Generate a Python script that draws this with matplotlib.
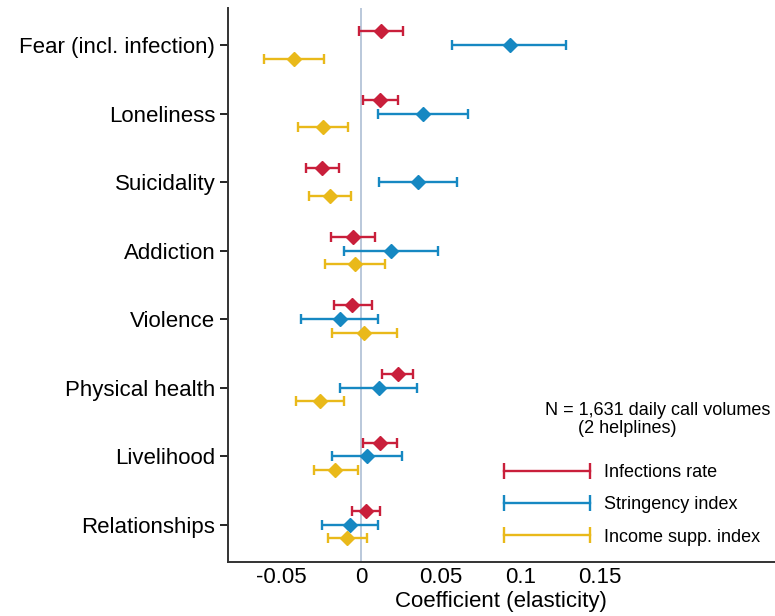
import matplotlib
matplotlib.use("Agg")
import matplotlib.pyplot as plt
from matplotlib.lines import Line2D
import numpy as np

plt.rcParams['font.family'] = ['Liberation Sans', 'DejaVu Sans']

categories = ["Fear (incl. infection)", "Loneliness", "Suicidality", "Addiction",
              "Violence", "Physical health", "Livelihood", "Relationships"]

# point estimate, lower and upper bound of the 95% interval
infect_coef = [0.0126, 0.0119, -0.0243, -0.0050, -0.0055, 0.0231, 0.0119, 0.0030]
infect_lo = [-0.0010, 0.0011, -0.0348, -0.0191, -0.0172, 0.0130, 0.0011, -0.0055]
infect_hi = [0.0262, 0.0231, -0.0136, 0.0088, 0.0067, 0.0329, 0.0225, 0.0118]

string_coef = [0.0933, 0.0392, 0.0358, 0.0191, -0.0134, 0.0111, 0.0038, -0.0067]
string_lo = [0.0574, 0.0105, 0.0111, -0.0107, -0.0377, -0.0134, -0.0180, -0.0243]
string_hi = [0.1287, 0.0673, 0.0602, 0.0486, 0.0107, 0.0354, 0.0256, 0.0107]

income_coef = [-0.0421, -0.0239, -0.0193, -0.0040, 0.0019, -0.0258, -0.0162, -0.0086]
income_lo = [-0.0608, -0.0396, -0.0327, -0.0226, -0.0180, -0.0409, -0.0297, -0.0206]
income_hi = [-0.0235, -0.0084, -0.0061, 0.0149, 0.0225, -0.0105, -0.0021, 0.0036]

series = [
    ("Infections rate", infect_coef, infect_lo, infect_hi, "#c91f3b", -0.2),
    ("Stringency index", string_coef, string_lo, string_hi, "#1688c2", 0.0),
    ("Income supp. index", income_coef, income_lo, income_hi, "#e9b91a", 0.2),
]

fig = plt.figure(figsize=(7.75, 6.16), dpi=100)
ax = fig.add_axes([0.294, 0.088, 0.706, 0.899])

ax.axvline(0, color="#b4c4d8", lw=1.3, zorder=0)

ypos = np.arange(len(categories))
handles = []
for name, coef, lo, hi, col, off in series:
    coef = np.array(coef)
    err = [coef - np.array(lo), np.array(hi) - coef]
    ax.errorbar(coef, ypos + off, xerr=err, fmt="D", color=col, ms=7,
                elinewidth=1.7, capsize=3.8, capthick=1.7, mec=col)
    handles.append(Line2D([0], [0], color=col, lw=1.7, marker="|", ms=11, mew=1.7))

ax.set_yticks(ypos)
ax.set_yticklabels(categories, fontsize=16)
ax.set_ylim(7.54, -0.54)
ax.set_xlim(-0.0836, 0.260)
ax.set_xticks([-0.05, 0, 0.05, 0.1, 0.15])
ax.set_xticklabels(["-0.05", "0", "0.05", "0.1", "0.15"], fontsize=16)
ax.tick_params(axis="x", length=0, pad=3.5)
ax.tick_params(axis="y", length=6, width=1.2, pad=3)
ax.set_xlabel("Coefficient (elasticity)", fontsize=16, labelpad=2.5)

for s in ["top", "right"]:
    ax.spines[s].set_visible(False)
for s in ["left", "bottom"]:
    ax.spines[s].set_linewidth(1.4)
    ax.spines[s].set_color("#333333")

ax.text(0.785, 0.274, "N = 1,631 daily call volumes", transform=ax.transAxes,
        fontsize=13, ha="center", va="center")
ax.text(0.73, 0.240, "(2 helplines)", transform=ax.transAxes,
        fontsize=13, ha="center", va="center")

leg = ax.legend(handles, [s[0] for s in series], loc="lower right", bbox_to_anchor=(1.003, 0.0),
                frameon=False, fontsize=13, numpoints=2, handlelength=5.36,
                handletextpad=0.47, labelspacing=0.85)

fig.savefig("out.png", dpi=100)
